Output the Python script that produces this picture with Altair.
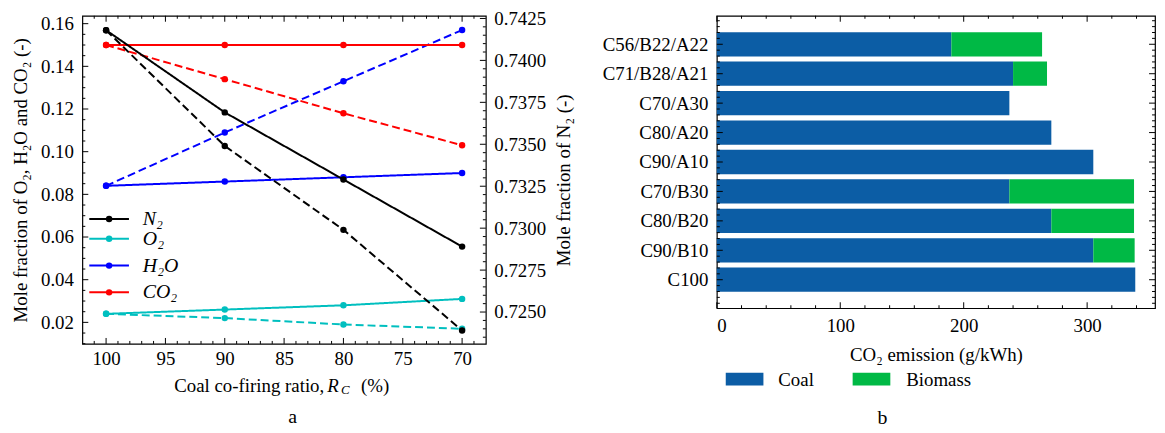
import altair as alt
import pandas as pd
import numpy as np

# ---------------- data: panel a ----------------
ratio = [100, 90, 80, 70]
co2_solid = [0.150, 0.150, 0.150, 0.150]
co2_dashed = [0.150, 0.134, 0.118, 0.103]
h2o_solid = [0.084, 0.086, 0.088, 0.090]
h2o_dashed = [0.084, 0.109, 0.133, 0.157]
o2_solid = [0.024, 0.026, 0.028, 0.031]
o2_dashed = [0.024, 0.022, 0.019, 0.017]
n2_solid = [0.7418, 0.7369, 0.7329, 0.7289]
n2_dashed = [0.7418, 0.7349, 0.7299, 0.7239]

species = ["N2", "O2", "H2O", "CO2"]
species_labels = ["N₂", "O₂", "H₂O", "CO₂"]
species_colors = ["#000000", "#00BFBF", "#0000FF", "#FF0000"]

x_ticks_a = [100, 95, 90, 85, 80, 75, 70]
yl_ticks = [0.02, 0.04, 0.06, 0.08, 0.10, 0.12, 0.14, 0.16]
yr_ticks = [0.7250, 0.7275, 0.7300, 0.7325, 0.7350, 0.7375, 0.7400, 0.7425]

# ---------------- data: panel b ----------------
cases = ["C56/B22/A22", "C71/B28/A21", "C70/A30", "C80/A20", "C90/A10",
         "C70/B30", "C80/B20", "C90/B10", "C100"]
coal = [190, 240, 237, 271, 305, 237, 271, 305, 339]
biomass = [73.5, 27.5, 0, 0, 0, 101, 67, 33.5, 0]
fuels = ["Coal", "Biomass"]
fuel_colors = ["#0C5DA5", "#00B945"]
x_ticks_b = [0, 100, 200, 300]

FONT = "Liberation Serif"
FS = 19
LW, LH = 407, 331
RW, RH = 442, 295

# ---------------- tables ----------------
rows_l, rows_r = [], []
for sp, s, d in [("O2", o2_solid, o2_dashed), ("H2O", h2o_solid, h2o_dashed),
                 ("CO2", co2_solid, co2_dashed)]:
    for r, v in zip(ratio, s):
        rows_l.append(dict(ratio=r, value=v, species=sp, case="solid"))
    for r, v in zip(ratio, d):
        rows_l.append(dict(ratio=r, value=v, species=sp, case="dashed"))
for r, v in zip(ratio, n2_solid):
    rows_r.append(dict(ratio=r, value=v, species="N2", case="solid"))
for r, v in zip(ratio, n2_dashed):
    rows_r.append(dict(ratio=r, value=v, species="N2", case="dashed"))
df_l = pd.DataFrame(rows_l)
df_r = pd.DataFrame(rows_r)

x_scale = alt.Scale(domain=[68, 102], reverse=True, nice=False, zero=False)
yl_scale = alt.Scale(domain=[0.0099, 0.1637], nice=False, zero=False)
yr_scale = alt.Scale(domain=[0.7231, 0.74266], nice=False, zero=False)
color_scale = alt.Scale(domain=species, range=species_colors)
dash_scale = alt.Scale(domain=["solid", "dashed"], range=[[1, 0], [8, 4]])

x_axis_a = alt.Axis(values=x_ticks_a, format="d", title=None, labelPadding=6)
yl_axis = alt.Axis(values=yl_ticks, format=".2f", labelPadding=9,
                   title="Mole fraction of O₂, H₂O and CO₂ (-)", titlePadding=10)
yr_axis = alt.Axis(values=yr_ticks, format=".4f", orient="right", labelPadding=8,
                   title="Mole fraction of N₂ (-)", titlePadding=9,
                   titleAngle=270, titleBaseline="top")


def rules_y(vals, scale, axis, x0, x1):
    return alt.Chart(pd.DataFrame({"v": vals})).mark_rule(color="black", strokeWidth=1).encode(
        y=alt.Y("v:Q", scale=scale, axis=axis), x=alt.value(x0), x2=alt.value(x1))


def rules_x(vals, scale, axis, y0, y1):
    return alt.Chart(pd.DataFrame({"v": vals})).mark_rule(color="black", strokeWidth=1).encode(
        x=alt.X("v:Q", scale=scale, axis=axis), y=alt.value(y0), y2=alt.value(y1))


lines_l = alt.Chart(df_l).mark_line(strokeWidth=2).encode(
    x=alt.X("ratio:Q", scale=x_scale, axis=x_axis_a),
    y=alt.Y("value:Q", scale=yl_scale, axis=yl_axis),
    color=alt.Color("species:N", scale=color_scale, legend=None),
    strokeDash=alt.StrokeDash("case:N", scale=dash_scale, legend=None),
)
pts_l = alt.Chart(df_l).mark_circle(size=42, opacity=1).encode(
    x=alt.X("ratio:Q", scale=x_scale, axis=x_axis_a),
    y=alt.Y("value:Q", scale=yl_scale, axis=yl_axis),
    color=alt.Color("species:N", scale=color_scale, legend=None),
)

yl_minor = [round(v, 4) for v in np.arange(0.010, 0.1636, 0.005) if min(abs(v - t) for t in yl_ticks) > 1e-6]
x_minor_a = [v for v in range(69, 102) if v % 5 != 0]

left_layers = [lines_l, pts_l,
               rules_y(yl_ticks, yl_scale, yl_axis, 0, 6), rules_y(yl_minor, yl_scale, yl_axis, 0, 3),
               rules_x(x_ticks_a, x_scale, x_axis_a, LH - 6, LH), rules_x(x_minor_a, x_scale, x_axis_a, LH - 3, LH),
               rules_x(x_ticks_a, x_scale, x_axis_a, 0, 6), rules_x(x_minor_a, x_scale, x_axis_a, 0, 3)]

# legend of panel a
leg_y = [205, 225, 252, 279]
one = pd.DataFrame({"d": [0]})
for lab, col, yy in zip(species_labels, species_colors, leg_y):
    left_layers.append(alt.Chart(one).mark_rule(color=col, strokeWidth=2).encode(
        x=alt.value(7), x2=alt.value(47), y=alt.value(yy)))
    left_layers.append(alt.Chart(one).mark_circle(color=col, size=42, opacity=1).encode(
        x=alt.value(27), y=alt.value(yy)))
    left_layers.append(alt.Chart(pd.DataFrame({"t": [lab]})).mark_text(
        font=FONT, fontSize=20, fontStyle="italic", align="left", baseline="middle", color="black").encode(
        text="t:N", x=alt.value(61), y=alt.value(yy)))

# x title of panel a, with subscript
title_parts = [("Coal co-firing ratio,", 244, 373, FS, "normal", "right"),
               ("R", 247, 373, FS, "italic", "left"),
               ("C", 261, 378, 13, "italic", "left"),
               ("(%)", 281, 373, FS, "normal", "left"),
               ("a", 212, 405, 20, "normal", "center")]
for t, xx, yy, fs, st, al in title_parts:
    left_layers.append(alt.Chart(pd.DataFrame({"t": [t]})).mark_text(
        font=FONT, fontSize=fs, fontStyle=st, align=al, baseline="middle", color="black").encode(
        text="t:N", x=alt.value(xx), y=alt.value(yy)))

left_group = alt.layer(*left_layers)

yr_minor = [round(v, 5) for v in np.arange(0.7235, 0.74266, 0.0005) if min(abs(v - t) for t in yr_ticks) > 1e-7]
lines_r = alt.Chart(df_r).mark_line(strokeWidth=2).encode(
    x=alt.X("ratio:Q", scale=x_scale, axis=x_axis_a),
    y=alt.Y("value:Q", scale=yr_scale, axis=yr_axis),
    color=alt.Color("species:N", scale=color_scale, legend=None),
    strokeDash=alt.StrokeDash("case:N", scale=dash_scale, legend=None),
)
pts_r = alt.Chart(df_r).mark_circle(size=42, opacity=1).encode(
    x=alt.X("ratio:Q", scale=x_scale, axis=x_axis_a),
    y=alt.Y("value:Q", scale=yr_scale, axis=yr_axis),
    color=alt.Color("species:N", scale=color_scale, legend=None),
)
right_group = alt.layer(lines_r, pts_r,
                        rules_y(yr_ticks, yr_scale, yr_axis, LW - 6, LW),
                        rules_y(yr_minor, yr_scale, yr_axis, LW - 3, LW))

panel_a = alt.layer(left_group, right_group).resolve_scale(y="independent").properties(width=LW, height=LH)

# ---------------- panel b ----------------
rows_b = []
for i, (c, co, bi) in enumerate(zip(cases, coal, biomass)):
    rows_b.append(dict(idx=i, case=c, fuel="Coal", start=0, end=co))
    if bi > 0:
        rows_b.append(dict(idx=i, case=c, fuel="Biomass", start=co, end=co + bi))
df_b = pd.DataFrame(rows_b)

xb_scale = alt.Scale(domain=[0, 355], nice=False, zero=False)
yb_scale = alt.Scale(domain=[-0.8, 8.8], reverse=True, nice=False, zero=False)
label_expr = "[" + ",".join("'" + c + "'" for c in cases) + "][round(datum.value)]"
yb_axis = alt.Axis(values=list(range(len(cases))), labelExpr=label_expr, title=None, labelPadding=9)
xb_axis = alt.Axis(values=x_ticks_b, format="d", title="CO₂ emission (g/kWh)", labelPadding=8, titlePadding=11)

bars = alt.Chart(df_b).mark_bar(orient="horizontal", size=24.5).encode(
    y=alt.Y("idx:Q", scale=yb_scale, axis=yb_axis),
    x=alt.X("start:Q", scale=xb_scale, axis=xb_axis),
    x2="end:Q",
    color=alt.Color("fuel:N", scale=alt.Scale(domain=fuels, range=fuel_colors), legend=None),
)
yb_major = list(range(len(cases)))
yb_minor = [round(v, 2) for v in np.arange(-0.8, 8.81, 0.2) if abs(v - round(v)) > 1e-6]
xb_minor = [v for v in range(20, 355, 20) if v % 100 != 0]

right_layers = [bars,
                rules_y(yb_major, yb_scale, yb_axis, 0, 6), rules_y(yb_minor, yb_scale, yb_axis, 0, 3),
                rules_y(yb_major, yb_scale, yb_axis, RW - 6, RW), rules_y(yb_minor, yb_scale, yb_axis, RW - 3, RW),
                rules_x(x_ticks_b, xb_scale, xb_axis, RH - 6, RH), rules_x(xb_minor, xb_scale, xb_axis, RH - 3, RH),
                rules_x(x_ticks_b, xb_scale, xb_axis, 0, 6), rules_x(xb_minor, xb_scale, xb_axis, 0, 3)]

leg_b = [("Coal", fuel_colors[0], 9, 47, 62), ("Biomass", fuel_colors[1], 137, 175, 191)]
for lab, col, x0, x1, xt in leg_b:
    right_layers.append(alt.Chart(one).mark_rect(color=col).encode(
        x=alt.value(x0), x2=alt.value(x1), y=alt.value(360), y2=alt.value(373)))
    right_layers.append(alt.Chart(pd.DataFrame({"t": [lab]})).mark_text(
        font=FONT, fontSize=FS, align="left", baseline="middle", color="black").encode(
        text="t:N", x=alt.value(xt), y=alt.value(367)))
right_layers.append(alt.Chart(pd.DataFrame({"t": ["b"]})).mark_text(
    font=FONT, fontSize=20, align="center", baseline="middle", color="black").encode(
    text="t:N", x=alt.value(167), y=alt.value(406)))

panel_b = alt.layer(*right_layers).properties(width=RW, height=RH)

chart = alt.hconcat(panel_a, panel_b, spacing=27).resolve_scale(color="independent").properties(
    padding={"left": 3, "top": -1, "right": 0, "bottom": 0}
).configure_view(stroke="black", strokeWidth=1.2).configure_axis(
    labelFont=FONT, titleFont=FONT, labelFontSize=FS, titleFontSize=FS,
    titleFontWeight="normal", labelColor="black", titleColor="black",
    domain=False, ticks=False, grid=False
)

chart.save("out.html", embed_options={"renderer": "svg", "actions": False})
